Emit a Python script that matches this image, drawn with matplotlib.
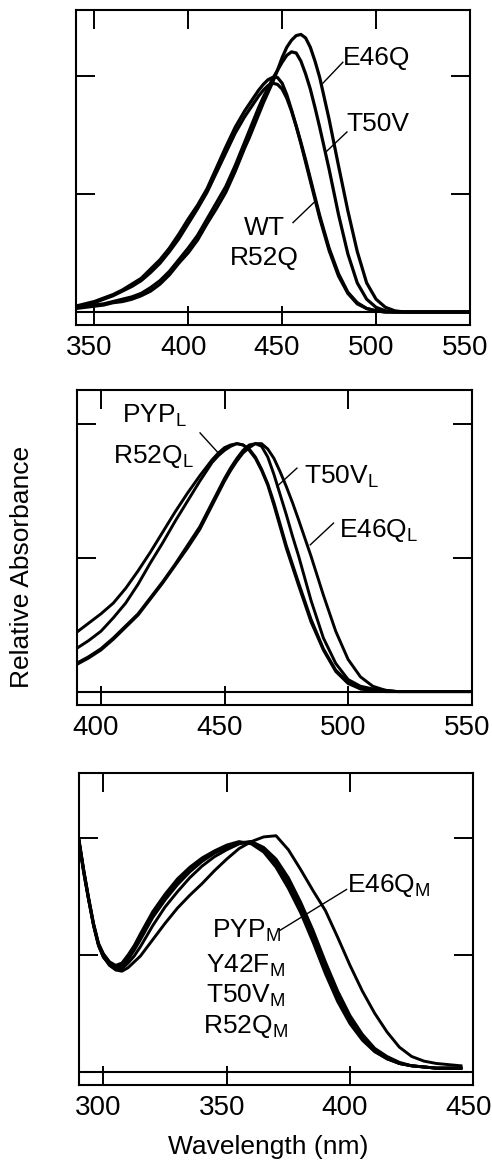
import matplotlib
matplotlib.use("Agg")
import matplotlib.pyplot as plt
import matplotlib.transforms as mtransforms

plt.rcParams["font.family"] = ["Liberation Sans", "DejaVu Sans"]
plt.rcParams["mathtext.fontset"] = "custom"
plt.rcParams["mathtext.rm"] = "Liberation Sans"
plt.rcParams["mathtext.default"] = "regular"

# ---- panel A: dark state ----
wl_a = [340, 345, 350, 355, 360, 365, 370, 375, 380, 385, 390, 395, 400, 405, 410,
        415, 420, 425, 430, 432.5, 435, 437.5, 440, 442.5, 445, 447.5, 450, 452.5,
        455, 457.5, 460, 462.5, 465, 467.5, 470, 475, 480, 485, 490, 495, 500, 505,
        510, 515, 520, 550]
wt_a = [0.05, 0.07, 0.09, 0.12, 0.15, 0.19, 0.24, 0.29, 0.37, 0.45, 0.55, 0.67, 0.80,
        0.92, 1.06, 1.24, 1.42, 1.59, 1.73, 1.79, 1.85, 1.91, 1.96, 2.00, 2.02, 2.02,
        1.97, 1.87, 1.74, 1.60, 1.45, 1.29, 1.13, 0.97, 0.81, 0.53, 0.31, 0.16, 0.07,
        0.03, 0.01, 0.0, 0.0, 0.0, 0.0, 0.0]
r52q_a = [0.04, 0.06, 0.08, 0.11, 0.14, 0.18, 0.22, 0.27, 0.34, 0.42, 0.52, 0.63, 0.76,
          0.89, 1.03, 1.20, 1.37, 1.54, 1.68, 1.74, 1.80, 1.86, 1.91, 1.95, 1.97, 1.96,
          1.92, 1.84, 1.73, 1.60, 1.46, 1.31, 1.15, 0.99, 0.83, 0.55, 0.33, 0.17, 0.08,
          0.03, 0.01, 0.0, 0.0, 0.0, 0.0, 0.0]
e46q_a = [0.03, 0.04, 0.05, 0.06, 0.08, 0.09, 0.11, 0.14, 0.18, 0.24, 0.32, 0.42, 0.51,
          0.62, 0.76, 0.89, 1.03, 1.21, 1.41, 1.50, 1.60, 1.70, 1.80, 1.89, 1.98, 2.08,
          2.19, 2.28, 2.34, 2.38, 2.39, 2.36, 2.28, 2.16, 2.02, 1.66, 1.26, 0.87, 0.52,
          0.25, 0.11, 0.04, 0.01, 0.0, 0.0, 0.0]
t50v_a = [0.04, 0.05, 0.06, 0.07, 0.09, 0.11, 0.13, 0.16, 0.21, 0.27, 0.35, 0.45, 0.55,
          0.66, 0.80, 0.94, 1.08, 1.26, 1.46, 1.56, 1.66, 1.76, 1.85, 1.93, 2.01, 2.08,
          2.15, 2.21, 2.24, 2.23, 2.16, 2.05, 1.92, 1.76, 1.59, 1.23, 0.84, 0.50, 0.25,
          0.11, 0.04, 0.01, 0.0, 0.0, 0.0, 0.0]
xticks_a = [350, 400, 450, 500, 550]

# ---- panel B: pB (L) intermediates ----
wl_b = [390, 395, 400, 405, 410, 415, 420, 425, 430, 435, 440, 442.5, 445, 447.5, 450,
        452.5, 455, 457.5, 460, 462.5, 465, 467.5, 470, 472.5, 475, 477.5, 480, 485,
        490, 495, 500, 505, 510, 515, 520, 525, 530, 550]
pyp_b = [0.44, 0.51, 0.58, 0.66, 0.77, 0.90, 1.04, 1.19, 1.34, 1.48, 1.61, 1.67, 1.73,
         1.78, 1.82, 1.84, 1.85, 1.84, 1.80, 1.74, 1.65, 1.54, 1.39, 1.23, 1.07, 0.93,
         0.79, 0.52, 0.31, 0.15, 0.06, 0.02, 0.01, 0.0, 0.0, 0.0, 0.0, 0.0]
r52q_b = [0.32, 0.38, 0.45, 0.55, 0.66, 0.80, 0.96, 1.11, 1.27, 1.42, 1.57, 1.64, 1.71,
          1.76, 1.80, 1.83, 1.85, 1.84, 1.81, 1.75, 1.66, 1.55, 1.41, 1.25, 1.09, 0.95,
          0.81, 0.54, 0.32, 0.16, 0.07, 0.02, 0.01, 0.0, 0.0, 0.0, 0.0, 0.0]
t50v_b = [0.21, 0.26, 0.32, 0.40, 0.49, 0.58, 0.70, 0.82, 0.95, 1.09, 1.23, 1.32, 1.41,
          1.50, 1.59, 1.67, 1.74, 1.80, 1.84, 1.85, 1.83, 1.75, 1.62, 1.47, 1.32, 1.16,
          1.01, 0.68, 0.40, 0.21, 0.09, 0.04, 0.02, 0.01, 0.0, 0.0, 0.0, 0.0]
e46q_b = [0.20, 0.25, 0.31, 0.39, 0.48, 0.57, 0.69, 0.81, 0.94, 1.07, 1.21, 1.30, 1.39,
          1.48, 1.57, 1.65, 1.72, 1.78, 1.82, 1.85, 1.85, 1.81, 1.74, 1.64, 1.53, 1.41,
          1.28, 1.01, 0.72, 0.45, 0.24, 0.11, 0.04, 0.01, 0.0, 0.0, 0.0, 0.0]
xticks_b = [400, 450, 500, 550]

# ---- panel C: pB (M) intermediates ----
wl_c = [290, 292, 294, 296, 298, 300, 302.5, 305, 307.5, 310, 312.5, 315, 320, 325, 330,
        335, 340, 345, 350, 355, 360, 365, 370, 375, 380, 385, 390, 395, 400, 405, 410,
        415, 420, 425, 430, 435, 440, 445]
pyp_c = [1.99, 1.72, 1.48, 1.26, 1.09, 1.00, 0.93, 0.90, 0.91, 0.98, 1.06, 1.16, 1.35,
         1.50, 1.63, 1.74, 1.82, 1.88, 1.93, 1.96, 1.96, 1.89, 1.77, 1.59, 1.38, 1.13,
         0.86, 0.62, 0.42, 0.28, 0.18, 0.11, 0.07, 0.05, 0.04, 0.03, 0.03, 0.03]
y42f_c = [1.98, 1.70, 1.47, 1.25, 1.08, 0.98, 0.92, 0.89, 0.90, 0.96, 1.04, 1.13, 1.32,
          1.47, 1.60, 1.71, 1.80, 1.87, 1.92, 1.96, 1.97, 1.91, 1.80, 1.63, 1.42, 1.17,
          0.90, 0.66, 0.45, 0.30, 0.19, 0.12, 0.07, 0.05, 0.04, 0.03, 0.03, 0.03]
t50v_c = [2.00, 1.73, 1.49, 1.27, 1.10, 1.01, 0.94, 0.91, 0.93, 1.00, 1.08, 1.18, 1.37,
          1.52, 1.65, 1.75, 1.83, 1.89, 1.94, 1.97, 1.95, 1.88, 1.75, 1.57, 1.36, 1.11,
          0.84, 0.60, 0.41, 0.27, 0.17, 0.11, 0.07, 0.05, 0.04, 0.03, 0.03, 0.03]
r52q_c = [1.98, 1.71, 1.47, 1.25, 1.08, 0.98, 0.91, 0.88, 0.88, 0.93, 0.99, 1.07, 1.25,
          1.41, 1.54, 1.66, 1.76, 1.84, 1.90, 1.95, 1.97, 1.92, 1.82, 1.66, 1.45, 1.21,
          0.94, 0.69, 0.48, 0.32, 0.20, 0.13, 0.08, 0.05, 0.04, 0.03, 0.03, 0.03]
e46q_c = [1.99, 1.72, 1.48, 1.26, 1.09, 0.99, 0.91, 0.87, 0.86, 0.89, 0.94, 0.99, 1.13,
          1.27, 1.40, 1.51, 1.61, 1.72, 1.82, 1.91, 1.97, 2.01, 2.02, 1.90, 1.73, 1.55,
          1.38, 1.15, 0.91, 0.69, 0.50, 0.34, 0.21, 0.13, 0.09, 0.07, 0.06, 0.05]
xticks_c = [300, 350, 400, 450]

FS = 19
TICK_FS = 20


def setup_panel(ax, wl, curves, xlim, ylim, xticks, yticks, lw=2.1):
    for y in curves:
        ax.plot(wl, y, color="black", lw=lw, solid_joinstyle="round")
    ax.axhline(0, color="black", lw=1.5)
    ax.set_xlim(*xlim)
    ax.set_ylim(*ylim)
    ax.set_xticks(xticks)
    ax.set_yticks(yticks)
    ax.set_yticklabels([])
    ax.tick_params(direction="in", length=14, width=1.4, top=True, right=True,
                   labelsize=TICK_FS, pad=7.5)
    for s in ax.spines.values():
        s.set_linewidth(1.5)
    # tick labels in the original sit a few pixels left of their ticks
    shift = mtransforms.ScaledTranslation(-5 / 100, 0, fig.dpi_scale_trans)
    for lbl in ax.get_xticklabels():
        lbl.set_transform(lbl.get_transform() + shift)


def leader(ax, p0, p1):
    ax.plot([p0[0], p1[0]], [p0[1], p1[1]], color="black", lw=1.0)


fig = plt.figure(figsize=(4.92, 11.67), dpi=100)

# panel A
ax1 = fig.add_axes([0.1545, 0.7215, 0.8008, 0.2699])
setup_panel(ax1, wl_a, [wt_a, r52q_a, e46q_a, t50v_a], (340.3, 550), (-0.112, 2.60),
            xticks_a, [0, 1.02, 2.03], lw=2.3)
ax1.text(482.5, 2.13, "E46Q", fontsize=FS, ha="left", va="baseline")
ax1.text(484.3, 1.555, "T50V", fontsize=FS, ha="left", va="baseline")
ax1.text(440.8, 0.664, "WT", fontsize=FS, ha="center", va="baseline")
ax1.text(440.4, 0.405, "R52Q", fontsize=FS, ha="center", va="baseline")
leader(ax1, (482.3, 2.15), (471.7, 1.97))
leader(ax1, (484.5, 1.55), (472.8, 1.37))
leader(ax1, (455.8, 0.77), (467.4, 0.95))

# panel B
ax2 = fig.add_axes([0.1559, 0.3959, 0.8028, 0.2699])
setup_panel(ax2, wl_b, [pyp_b, r52q_b, t50v_b, e46q_b], (390.2, 550), (-0.10, 2.25),
            xticks_b, [0, 1, 2])
ax2.text(408.5, 2.003, "PYP$_{L}$", fontsize=FS, ha="left", va="baseline")
ax2.text(405.0, 1.704, "R52Q$_{L}$", fontsize=FS, ha="left", va="baseline")
ax2.text(482.0, 1.55, "T50V$_{L}$", fontsize=FS, ha="left", va="baseline")
ax2.text(496.2, 1.157, "E46Q$_{L}$", fontsize=FS, ha="left", va="baseline")
leader(ax2, (440.1, 1.93), (447.5, 1.78))
leader(ax2, (479.3, 1.667), (471.2, 1.53))
leader(ax2, (494.1, 1.257), (484.7, 1.095))

# panel C
ax3 = fig.add_axes([0.1606, 0.0703, 0.8014, 0.2676])
setup_panel(ax3, wl_c, [pyp_c, y42f_c, t50v_c, r52q_c, e46q_c], (290.1, 450),
            (-0.114, 2.56), xticks_c, [0, 1, 2], lw=2.1)
ax3.text(398.8, 1.534, "E46Q$_{M}$", fontsize=FS, ha="left", va="baseline")
for lab, yb in [("PYP$_{M}$", 1.143), ("Y42F$_{M}$", 0.843),
                ("T50V$_{M}$", 0.586), ("R52Q$_{M}$", 0.329)]:
    ax3.text(357.8, yb, lab, fontsize=FS, ha="center", va="baseline")
leader(ax3, (398.6, 1.56), (371.6, 1.21))

fig.text(0.0447, 0.514, "Relative Absorbance", fontsize=FS, rotation=90,
         ha="center", va="center")
fig.text(0.546, 0.0171, "Wavelength (nm)", fontsize=FS, ha="center", va="center")

fig.savefig("out.png", dpi=100)
